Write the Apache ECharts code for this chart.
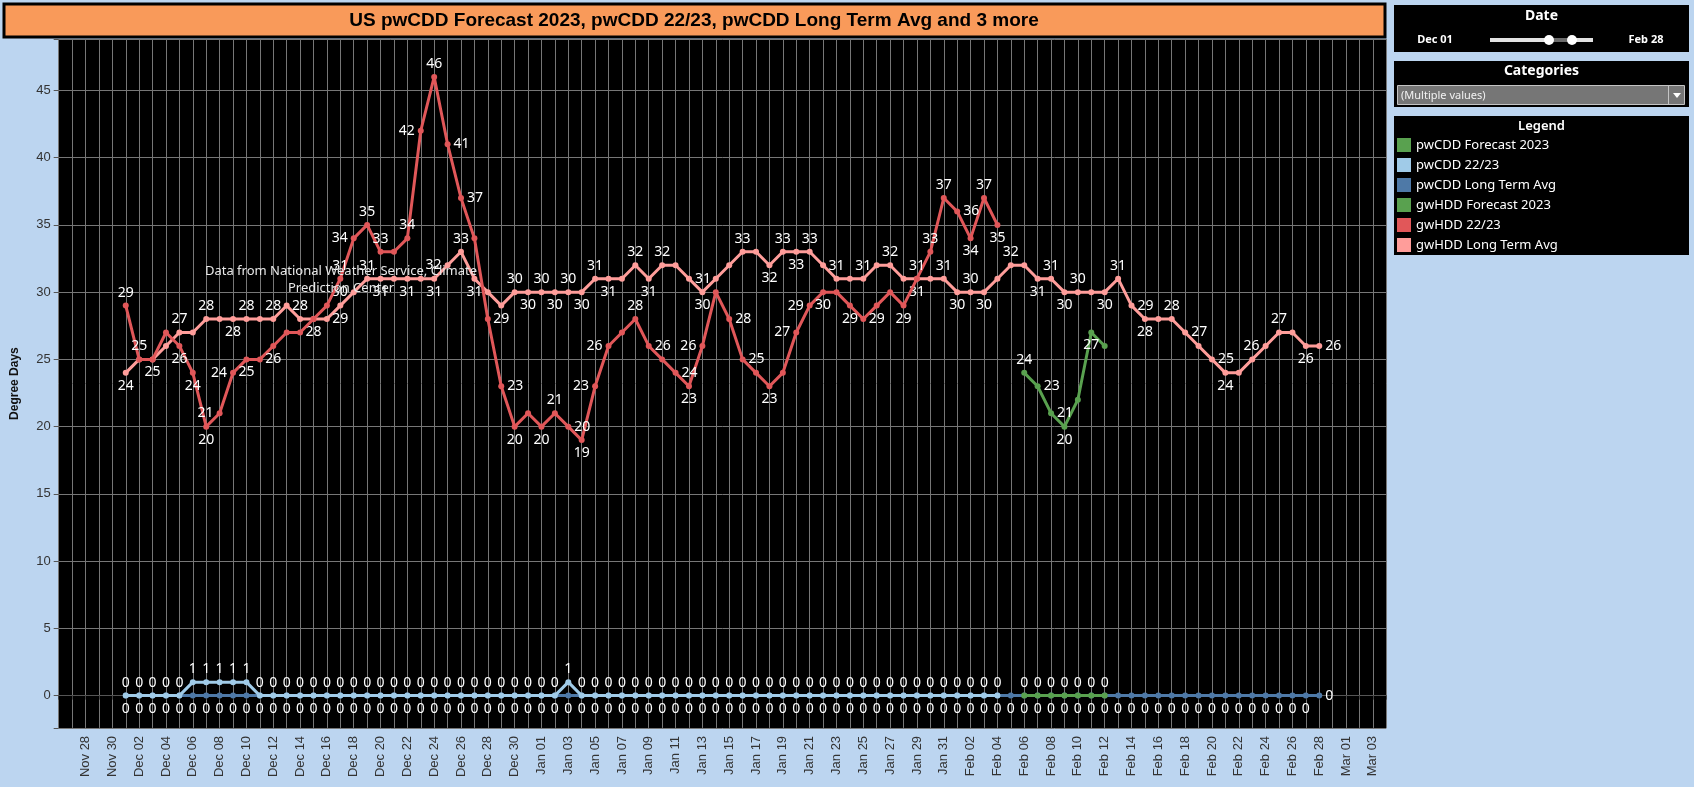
<!DOCTYPE html>
<html>
<head>
<meta charset="utf-8">
<title>US pwCDD Forecast 2023</title>
<script src="https://cdn.jsdelivr.net/npm/echarts@6/dist/echarts.min.js"></script>
<style>
    html, body { margin: 0; padding: 0; background: #bcd5f0; }
    #chart { width: 1694px; height: 787px; }
</style>
</head>
<body>
<div id="chart"></div>
<script>
// axis calendar: [month, first day, last day]  (leap year axis, Nov 26 .. Mar 04)
var axisMonths = [['Nov', 26, 30], ['Dec', 1, 31], ['Jan', 1, 31], ['Feb', 1, 29], ['Mar', 1, 4]];

var seriesNames = ['pwCDD Forecast 2023', 'pwCDD 22/23', 'pwCDD Long Term Avg',
                   'gwHDD Forecast 2023', 'gwHDD 22/23', 'gwHDD Long Term Avg'];

var pwCddForecastStart = 'Feb 06';
var pwCddForecast = [0, 0, 0, 0, 0, 0, 0];

var pwCdd2223Start = 'Dec 01';
var pwCdd2223 = [
    0, 0, 0, 0, 0, 1, 1, 1, 1, 1, 0, 0, 0, 0, 0, 0, 0, 0, 0, 0, 0, 0, 0, 0, 0, 0, 0, 0, 0, 0, 0,
    0, 0, 1, 0, 0, 0, 0, 0, 0, 0, 0, 0, 0, 0, 0, 0, 0, 0, 0, 0, 0, 0, 0, 0, 0, 0, 0, 0, 0, 0, 0,
    0, 0, 0, 0
];

// Dec 01 .. Feb 28
var pwCddAvgStart = 'Dec 01';
var pwCddAvg = [
    0, 0, 0, 0, 0, 0, 0, 0, 0, 0, 0, 0, 0, 0, 0, 0, 0, 0, 0, 0, 0, 0, 0, 0, 0, 0, 0, 0, 0, 0, 0,
    0, 0, 0, 0, 0, 0, 0, 0, 0, 0, 0, 0, 0, 0, 0, 0, 0, 0, 0, 0, 0, 0, 0, 0, 0, 0, 0, 0, 0, 0, 0,
    0, 0, 0, 0, 0, 0, 0, 0, 0, 0, 0, 0, 0, 0, 0, 0, 0, 0, 0, 0, 0, 0, 0, 0, 0, 0, 0, 0
];

var gwHddForecastStart = 'Feb 06';
var gwHddForecast = [24, 23, 21, 20, 22, 27, 26];

var gwHdd2223Start = 'Dec 01';
var gwHdd2223 = [
    29, 25, 25, 27, 26, 24, 20, 21, 24, 25, 25, 26, 27, 27, 28, 29, 31, 34, 35, 33, 33, 34, 42, 46, 41, 37, 34, 28, 23, 20, 21,
    20, 21, 20, 19, 23, 26, 27, 28, 26, 25, 24, 23, 26, 30, 28, 25, 24, 23, 24, 27, 29, 30, 30, 29, 28, 29, 30, 29, 31, 33, 37,
    36, 34, 37, 35
];

var gwHddAvgStart = 'Dec 01';
var gwHddAvg = [
    24, 25, 25, 26, 27, 27, 28, 28, 28, 28, 28, 28, 29, 28, 28, 28, 29, 30, 31, 31, 31, 31, 31, 31, 32, 33, 31, 30, 29, 30, 30,
    30, 30, 30, 30, 31, 31, 31, 32, 31, 32, 32, 31, 30, 31, 32, 33, 33, 32, 33, 33, 33, 32, 31, 31, 31, 32, 32, 31, 31, 31, 31,
    30, 30, 30, 31, 32, 32, 31, 31, 30, 30, 30, 30, 31, 29, 28, 28, 28, 27, 26, 25, 24, 24, 25, 26, 27, 27, 26, 26
];

var yTickLabels = [0, 5, 10, 15, 20, 25, 30, 35, 40, 45];

var colors = {
    green: '#59a14f',
    lightBlue: '#a0cbe8',
    blue: '#4e79a7',
    red: '#e15759',
    pink: '#ff9d9a'
};

var days = [];
axisMonths.forEach(function (m) {
    for (var d = m[1]; d <= m[2]; d++) {
        days.push(m[0] + ' ' + (d < 10 ? '0' + d : d));
    }
});
var lastDataDay = days.indexOf('Feb 28');

function toDayMap(start, vals) {
    var s = days.indexOf(start), map = {};
    vals.forEach(function (v, i) { map[s + i] = v; });
    return map;
}

// tableau-ish label placement: peaks above, dips below, slopes to the side
function slopePos(vals, i) {
    var v = vals[i], p = vals[i - 1], n = vals[i + 1];
    if (p === undefined) return n > v ? 'bottom' : 'top';
    if (n === undefined) return p > v ? 'bottom' : 'top';
    if (v >= p && v >= n && (v > p || v > n)) return 'top';
    if (v <= p && v <= n && (v < p || v < n)) return 'bottom';
    if (v === p && v === n) return i % 2 ? 'top' : 'bottom';
    return p > n ? 'right' : 'left';
}

function hddData(start, vals, rivals, winsTie) {
    var s = days.indexOf(start);
    var out = days.map(function () { return '-'; });
    vals.forEach(function (v, i) {
        var d = s + i, pos = null;
        rivals.forEach(function (r) {
            var o = r[d];
            if (pos || o === undefined || Math.abs(o - v) > 3) return;
            pos = v > o ? 'top' : (v < o ? 'bottom' : (winsTie ? 'top' : 'bottom'));
        });
        if (!pos) pos = slopePos(vals, i);
        if (d === lastDataDay && i === vals.length - 1) pos = 'right';
        out[d] = { value: v, label: { position: pos } };
    });
    return out;
}

function cddData(start, vals, pos) {
    var s = days.indexOf(start);
    var out = days.map(function () { return '-'; });
    vals.forEach(function (v, i) {
        var d = s + i;
        var p = (d === lastDataDay && i === vals.length - 1) ? 'right' : pos;
        out[d] = { value: v, label: { position: p } };
    });
    return out;
}

var redMap = toDayMap(gwHdd2223Start, gwHdd2223);
var pinkMap = toDayMap(gwHddAvgStart, gwHddAvg);
var greenMap = toDayMap(gwHddForecastStart, gwHddForecast);

function lineSeries(name, color, data, z, hide) {
    return {
        name: name,
        type: 'line',
        data: data,
        z: z,
        symbol: 'circle',
        symbolSize: 6,
        showAllSymbol: true,
        lineStyle: { width: 3, color: color },
        itemStyle: { color: color },
        label: {
            show: true,
            color: '#ffffff',
            fontSize: 14,
            fontFamily: 'Noto Sans',
            distance: 3
        },
        labelLayout: hide ? { hideOverlap: true } : null,
        emphasis: { disabled: true }
    };
}

var panelFont = 'Noto Sans';
var graphics = [
    // title bar
    { type: 'rect', z: -10, shape: { x: 4, y: 4, width: 1381, height: 33 },
      style: { fill: '#f99a5a', stroke: '#000', lineWidth: 3 } },
    // annotation
    { type: 'text', z: 100, x: 341, y: 263,
      style: { text: 'Data from National Weather Service, Climate\nPrediction Center',
               align: 'center', verticalAlign: 'top', fill: '#e8e8e8',
               fontSize: 13, fontFamily: 'Noto Sans', lineHeight: 17 } },
    // date panel
    { type: 'rect', shape: { x: 1394, y: 5, width: 295, height: 47 }, style: { fill: '#000' } },
    { type: 'text', x: 1541.5, y: 16, style: { text: 'Date', align: 'center', verticalAlign: 'middle',
      fill: '#fff', fontSize: 14, fontWeight: 'bold', fontFamily: panelFont } },
    { type: 'text', x: 1435, y: 40, style: { text: 'Dec 01', align: 'center', verticalAlign: 'middle',
      fill: '#fff', fontSize: 11, fontWeight: 'bold', fontFamily: panelFont } },
    { type: 'text', x: 1646, y: 40, style: { text: 'Feb 28', align: 'center', verticalAlign: 'middle',
      fill: '#fff', fontSize: 11, fontWeight: 'bold', fontFamily: panelFont } },
    { type: 'line', shape: { x1: 1490, y1: 40, x2: 1593, y2: 40 }, style: { stroke: '#e2e2e2', lineWidth: 4 } },
    { type: 'line', shape: { x1: 1548, y1: 40, x2: 1573, y2: 40 }, style: { stroke: '#6b6b6b', lineWidth: 4 } },
    { type: 'circle', shape: { cx: 1549, cy: 40, r: 5 }, style: { fill: '#fff' } },
    { type: 'circle', shape: { cx: 1572, cy: 40, r: 5 }, style: { fill: '#fff' } },
    // categories panel
    { type: 'rect', shape: { x: 1394, y: 61, width: 295, height: 46 }, style: { fill: '#000' } },
    { type: 'text', x: 1541.5, y: 71, style: { text: 'Categories', align: 'center', verticalAlign: 'middle',
      fill: '#fff', fontSize: 14, fontWeight: 'bold', fontFamily: panelFont } },
    { type: 'rect', shape: { x: 1397.5, y: 85.5, width: 287, height: 19 },
      style: { fill: '#767676', stroke: '#c4c4c4', lineWidth: 1 } },
    { type: 'text', x: 1401, y: 95.5, style: { text: '(Multiple values)', align: 'left', verticalAlign: 'middle',
      fill: '#f2f2f2', fontSize: 11, fontFamily: panelFont } },
    { type: 'line', shape: { x1: 1668.5, y1: 86, x2: 1668.5, y2: 104 }, style: { stroke: '#c4c4c4', lineWidth: 1 } },
    { type: 'polygon', shape: { points: [[1673, 93], [1681, 93], [1677, 98]] }, style: { fill: '#fff' } },
    // legend panel
    { type: 'rect', shape: { x: 1394, y: 116, width: 295, height: 139 }, style: { fill: '#000' } },
    { type: 'text', x: 1541.5, y: 126, style: { text: 'Legend', align: 'center', verticalAlign: 'middle',
      fill: '#fff', fontSize: 13, fontWeight: 600, fontFamily: panelFont } }
];

var myChart = echarts.init(document.getElementById('chart'));
myChart.setOption({
    animation: false,
    backgroundColor: '#bcd5f0',
    title: {
        text: 'US pwCDD Forecast 2023, pwCDD 22/23, pwCDD Long Term Avg and 3 more',
        left: 694,
        top: 11,
        padding: 0,
        textAlign: 'center',
        textStyle: { fontSize: 19, fontWeight: 'bold', color: '#000', fontFamily: 'Liberation Sans' }
    },
    legend: {
        orient: 'vertical',
        left: 1397,
        top: 138,
        padding: 0,
        itemWidth: 14,
        itemHeight: 14,
        itemGap: 6,
        icon: 'rect',
        selectedMode: false,
        data: seriesNames,
        textStyle: { color: '#fff', fontSize: 13, fontFamily: panelFont }
    },
    grid: {
        left: 58.7,
        right: 307.7,
        top: 39.3,
        bottom: 59.1,
        show: true,
        backgroundColor: '#000',
        borderWidth: 0
    },
    xAxis: {
        type: 'category',
        data: days,
        boundaryGap: false,
        axisLine: { show: true, lineStyle: { color: '#555' } },
        axisTick: { show: true, interval: 0, length: 4, lineStyle: { color: '#444' } },
        splitLine: { show: true, interval: 0, lineStyle: { color: '#777', width: 1 } },
        axisLabel: {
            rotate: 90,
            margin: 8,
            fontSize: 13,
            color: '#333',
            fontFamily: 'Liberation Sans',
            interval: function (index) {
                return index >= 2 && index <= 98 && index % 2 === 0;
            }
        }
    },
    yAxis: {
        type: 'value',
        min: -2.4,
        max: 48.8,
        splitNumber: 10,
        name: 'Degree Days',
        nameLocation: 'middle',
        nameGap: 38,
        nameTextStyle: { fontSize: 12, fontWeight: 'bold', color: '#111', fontFamily: 'Liberation Sans' },
        axisLine: { show: false },
        axisTick: { show: true, length: 5, lineStyle: { color: '#555' } },
        splitLine: { show: true, lineStyle: { color: '#777', width: 1 } },
        axisLabel: {
            margin: 8,
            fontSize: 13,
            color: '#333',
            fontFamily: 'Liberation Sans',
            formatter: function (v) {
                return yTickLabels.indexOf(Math.round(v * 1000) / 1000) >= 0 ? String(v) : '';
            }
        }
    },
    graphic: graphics,
    series: [
        lineSeries(seriesNames[5], colors.pink,
            hddData(gwHddAvgStart, gwHddAvg, [redMap, greenMap], false), 2, true),
        lineSeries(seriesNames[4], colors.red,
            hddData(gwHdd2223Start, gwHdd2223, [pinkMap], true), 3, true),
        lineSeries(seriesNames[3], colors.green,
            hddData(gwHddForecastStart, gwHddForecast, [pinkMap], false), 4, true),
        lineSeries(seriesNames[2], colors.blue,
            cddData(pwCddAvgStart, pwCddAvg, 'bottom'), 5, false),
        lineSeries(seriesNames[1], colors.lightBlue,
            cddData(pwCdd2223Start, pwCdd2223, 'top'), 6, false),
        lineSeries(seriesNames[0], colors.green,
            cddData(pwCddForecastStart, pwCddForecast, 'top'), 7, false)
    ]
});
</script>
</body>
</html>
